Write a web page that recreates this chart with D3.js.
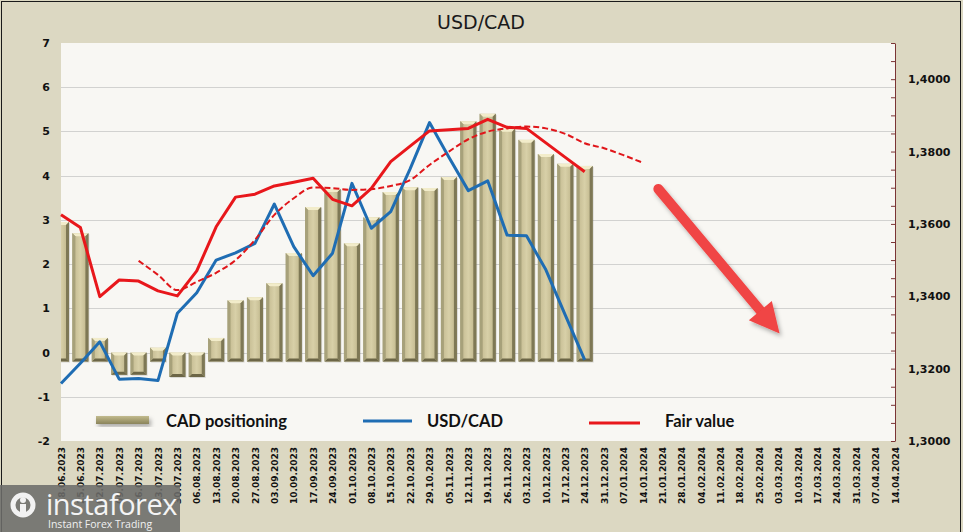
<!DOCTYPE html>
<html><head><meta charset="utf-8">
<script src="https://cdn.jsdelivr.net/npm/d3@7"></script>
<style>body{margin:0;background:#dcd8c2;} svg{display:block}</style>
</head><body><svg id="c" width="963" height="532"></svg>
<script>
// ---------- data ----------
const dates = ["18.06.2023","25.06.2023","02.07.2023","09.07.2023","16.07.2023","23.07.2023","30.07.2023",
  "06.08.2023","13.08.2023","20.08.2023","27.08.2023","03.09.2023","10.09.2023","17.09.2023","24.09.2023",
  "01.10.2023","08.10.2023","15.10.2023","22.10.2023","29.10.2023","05.11.2023","12.11.2023","19.11.2023",
  "26.11.2023","03.12.2023","10.12.2023","17.12.2023","24.12.2023","31.12.2023","07.01.2024","14.01.2024",
  "21.01.2024","28.01.2024","04.02.2024","11.02.2024","18.02.2024","25.02.2024","03.03.2024","10.03.2024",
  "17.03.2024","24.03.2024","31.03.2024","07.04.2024","14.04.2024"];
const cadPositioning = [2.95, 2.7, 0.33, -0.3, -0.3, 0.11, -0.35, -0.35, 0.33, 1.18, 1.25, 1.57, 2.25, 3.29,
  3.7, 2.47, 3.06, 3.63, 3.74, 3.72, 3.97, 5.23, 5.4, 5.06, 4.81, 4.49, 4.27, 4.22];
const usdCad = [1.3159, 1.3215, 1.3274, 1.3171, 1.3173, 1.3167, 1.3353, 1.3410, 1.3500, 1.3520, 1.3546,
  1.3655, 1.3537, 1.3457, 1.3519, 1.3712, 1.3588, 1.3634, 1.3752, 1.3880, 1.3784, 1.3692, 1.3719, 1.3569,
  1.3567, 1.3473, 1.3348, 1.3224];
const fairValue = [1.3625, 1.3590, 1.3399, 1.3445, 1.3442, 1.3415, 1.3401, 1.3470, 1.3592, 1.3674, 1.3682,
  1.3705, 1.3715, 1.3726, 1.3668, 1.3650, 1.3698, 1.3772, 1.3815, 1.3857, 1.3860, 1.3864, 1.3889, 1.3867,
  1.3864, 1.3824, 1.3784, 1.3744];
const fairTrendStart = 4;
const fairValueTrend = [1.3498, 1.3459, 1.3417, 1.3440, 1.3465, 1.3500, 1.3556, 1.3625, 1.3671, 1.3701,
  1.3699, 1.3694, 1.3696, 1.3705, 1.3721, 1.3763, 1.3800, 1.3834, 1.3855, 1.3864, 1.3869, 1.3864, 1.3849,
  1.3823, 1.3809, 1.3790, 1.3769];
const leftTicks = [-2, -1, 0, 1, 2, 3, 4, 5, 6, 7];
const rightTicks = [1.30, 1.32, 1.34, 1.36, 1.38, 1.40];
const legendLabels = ["CAD positioning", "USD/CAD", "Fair value"];
const title = "USD/CAD";
// arrow annotation: [date index, left-axis value]
const arrowFrom = [30.8, 3.7];
const arrowTo = [37.05, 0.43];

// ---------- chart ----------
const W = 963, H = 532;
const L = 61, R = 895, T = 43, B = 441;
const svg = d3.select("#c");
const defs = svg.append("defs");

const x = d3.scalePoint().domain(dates).range([L, R]);
const yL = d3.scaleLinear().domain([-2, 7]).range([B, T]);
const yR = d3.scaleLinear().domain([1.30, 1.41]).range([B, T]);

const bg = defs.append("linearGradient").attr("id", "barG").attr("x1", 0).attr("x2", 1).attr("y1", 0).attr("y2", 0);
[["0", "#9c966f"], ["0.18", "#c9c097"], ["0.5", "#d8d0a8"], ["0.82", "#c6bd93"], ["1", "#8c865f"]]
  .forEach(([o, c]) => bg.append("stop").attr("offset", o).attr("stop-color", c));
const lg = defs.append("linearGradient").attr("id", "legG").attr("x1", 0).attr("x2", 0).attr("y1", 0).attr("y2", 1);
[["0", "#c2bb8e"], ["0.5", "#a69f72"], ["1", "#8a845c"]]
  .forEach(([o, c]) => lg.append("stop").attr("offset", o).attr("stop-color", c));
const sh = defs.append("filter").attr("id", "shadow").attr("x", "-20%").attr("y", "-20%").attr("width", "150%").attr("height", "150%");
sh.append("feDropShadow").attr("dx", 2).attr("dy", 3).attr("stdDeviation", 2).attr("flood-color", "#000").attr("flood-opacity", 0.3);
defs.append("clipPath").attr("id", "plotClip").append("rect").attr("x", L).attr("y", T).attr("width", R - L).attr("height", B - T + 20);

// backgrounds
svg.append("rect").attr("width", W).attr("height", H).attr("fill", "#dcd8c2");
svg.append("rect").attr("x", 1.5).attr("y", 1.5).attr("width", W - 4).attr("height", H + 10)
  .attr("fill", "none").attr("stroke", "#1a1a1a").attr("stroke-width", 1);
svg.append("rect").attr("x", L).attr("y", T).attr("width", R - L).attr("height", B - T).attr("fill", "#f8f7f3");

// gridlines
svg.append("g").selectAll("line").data(leftTicks.filter(t => t > -2 && t < 7)).join("line")
  .attr("x1", L).attr("x2", R).attr("y1", d => Math.round(yL(d)) + 0.5).attr("y2", d => Math.round(yL(d)) + 0.5)
  .attr("stroke", "#d2d2d0").attr("stroke-width", 1);

// title
svg.append("text").attr("x", 481).attr("y", 29).attr("text-anchor", "middle")
  .attr("font-family", "DejaVu Sans").attr("font-size", 19).attr("fill", "#1a1a1a").text(title);

// left axis
const gl = svg.append("g").attr("transform", `translate(${L},0)`)
  .call(d3.axisLeft(yL).tickValues(leftTicks).tickSize(0).tickPadding(11).tickFormat(d => String(d)));
gl.select(".domain").remove();
gl.selectAll("text").attr("font-family", "DejaVu Sans").attr("font-weight", "bold").attr("font-size", 11).attr("fill", "#111");

// right axis
const minor = d3.range(0, 23).map(i => 1.30 + i * 0.005);
const gr = svg.append("g").attr("transform", `translate(${R},0)`)
  .call(d3.axisLeft(yR).tickValues(minor).tickSize(4).tickSizeOuter(0).tickFormat(""));
gr.selectAll("line, path").attr("stroke", "#7a3434");
const gr2 = svg.append("g").attr("transform", `translate(${R},0)`)
  .call(d3.axisRight(yR).tickValues(rightTicks).tickSize(0).tickPadding(13)
    .tickFormat(d => d3.format(".4f")(d).replace(".", ",")));
gr2.select(".domain").remove();
gr2.selectAll("text").attr("font-family", "DejaVu Sans").attr("font-weight", "bold").attr("font-size", 11).attr("fill", "#111");

// x axis labels
const gx = svg.append("g").attr("transform", `translate(0,${B})`).call(d3.axisBottom(x).tickSize(0));
gx.select(".domain").remove();
gx.selectAll("text").attr("transform", "rotate(-90)").attr("text-anchor", "end")
  .attr("x", -6).attr("y", 0).attr("dy", "0.35em")
  .attr("font-family", "DejaVu Sans").attr("font-weight", "bold").attr("font-size", 9).attr("fill", "#111");

// bars
const bw = 16, depth = 9, bev = 3;
const gb = svg.append("g").attr("clip-path", "url(#plotClip)");
cadPositioning.forEach((v, i) => {
  const cx = x(dates[i]);
  const x0 = cx - bw / 2, x1 = cx + bw / 2;
  const y0 = yL(Math.max(v, 0)), y1 = yL(Math.min(v, 0)) + depth;
  const g = gb.append("g");
  g.append("rect").attr("x", x0 + 1).attr("y", y0 + 1).attr("width", bw).attr("height", y1 - y0)
    .attr("fill", "#000").attr("opacity", 0.12);
  g.append("rect").attr("x", x0).attr("y", y0).attr("width", bw).attr("height", y1 - y0).attr("fill", "url(#barG)");
  const poly = (pts, c) => g.append("polygon").attr("points", pts.map(p => p.join(",")).join(" ")).attr("fill", c);
  poly([[x0, y0], [x1, y0], [x1 - bev, y0 + bev], [x0 + bev, y0 + bev]], "#f2ecca");
  poly([[x0, y1], [x1, y1], [x1 - bev, y1 - bev], [x0 + bev, y1 - bev]], "#6c6646");
  poly([[x0, y0], [x0 + bev, y0 + bev], [x0 + bev, y1 - bev], [x0, y1]], "#a7a17a");
  poly([[x1, y0], [x1 - bev, y0 + bev], [x1 - bev, y1 - bev], [x1, y1]], "#7e7855");
});

// lines
const lineR = d3.line().x((d, i) => x(dates[i])).y(d => yR(d));
svg.append("path").attr("d", lineR(usdCad)).attr("fill", "none").attr("stroke", "#1f6db3")
  .attr("stroke-width", 3).attr("stroke-linejoin", "round");
svg.append("path").attr("d", lineR(fairValue)).attr("fill", "none").attr("stroke", "#e8171b")
  .attr("stroke-width", 3).attr("stroke-linejoin", "round");
const lineT = d3.line().curve(d3.curveMonotoneX).x((d, i) => x(dates[i + fairTrendStart])).y(d => yR(d));
svg.append("path").attr("d", lineT(fairValueTrend)).attr("fill", "none").attr("stroke", "#e0161a")
  .attr("stroke-width", 2).attr("stroke-dasharray", "6,3");

// arrow
const px = idx => x(dates[0]) + idx * x.step();
const p0 = [px(arrowFrom[0]), yL(arrowFrom[1])], p1 = [px(arrowTo[0]), yL(arrowTo[1])];
const dx = p1[0] - p0[0], dy = p1[1] - p0[1], len = Math.hypot(dx, dy);
const u = [dx / len, dy / len], n = [-u[1], u[0]];
const hl = 30, hw = 15;
const hb = [p1[0] - u[0] * hl, p1[1] - u[1] * hl];
const ga = svg.append("g").attr("filter", "url(#shadow)");
ga.append("line").attr("x1", p0[0]).attr("y1", p0[1]).attr("x2", hb[0] + u[0] * 4).attr("y2", hb[1] + u[1] * 4)
  .attr("stroke", "#f04444").attr("stroke-width", 10).attr("stroke-linecap", "round");
ga.append("polygon").attr("points", [p1, [hb[0] + n[0] * hw, hb[1] + n[1] * hw], [hb[0] - n[0] * hw, hb[1] - n[1] * hw]]
  .map(p => p.join(",")).join(" ")).attr("fill", "#f04444");

// legend
const ly = 421;
const lgG = svg.append("g");
lgG.append("rect").attr("x", 96).attr("y", ly - 5).attr("width", 53).attr("height", 8).attr("fill", "url(#legG)").attr("filter", "url(#shadow)");
lgG.append("line").attr("x1", 363).attr("x2", 412).attr("y1", ly).attr("y2", ly).attr("stroke", "#1f6db3").attr("stroke-width", 3);
lgG.append("line").attr("x1", 589).attr("x2", 640).attr("y1", ly + 2).attr("y2", ly + 2).attr("stroke", "#e8171b").attr("stroke-width", 3);
[[166, legendLabels[0]], [427, legendLabels[1]], [665, legendLabels[2]]].forEach(([lx, t]) =>
  lgG.append("text").attr("x", lx).attr("y", ly).attr("dy", "0.35em").attr("font-family", "Lato")
    .attr("font-weight", 700).attr("font-size", 16.5).attr("fill", "#111").text(t));

// watermark
const wm = svg.append("g");
wm.append("rect").attr("x", 0).attr("y", 485).attr("width", 180).attr("height", 47).attr("fill", "#6c6c6a").attr("opacity", 0.88);
wm.append("circle").attr("cx", 23).attr("cy", 505).attr("r", 10).attr("fill", "none").attr("stroke", "#f2f2f2").attr("stroke-width", 5);
wm.append("circle").attr("cx", 23).attr("cy", 500).attr("r", 3).attr("fill", "#f2f2f2");
wm.append("rect").attr("x", 20).attr("y", 504).attr("width", 6).attr("height", 13).attr("fill", "#f2f2f2");
wm.append("text").attr("x", 46).attr("y", 515).attr("font-family", "Open Sans").attr("font-size", 29)
  .attr("fill", "#f4f4f4").attr("letter-spacing", -0.5).text("instaforex");
wm.append("text").attr("x", 48).attr("y", 528).attr("font-family", "Open Sans").attr("font-size", 10.5)
  .attr("fill", "#f0f0f0").text("Instant Forex Trading");
</script></body></html>
